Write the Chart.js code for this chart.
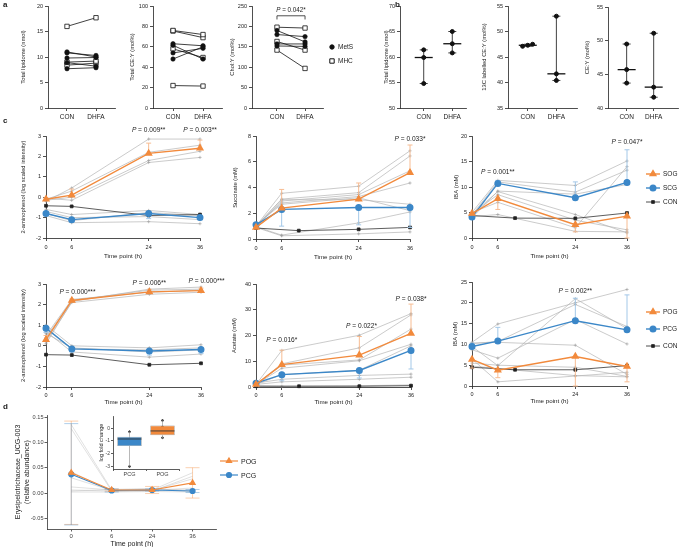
<!DOCTYPE html>
<html><head><meta charset="utf-8">
<script src="https://cdn.jsdelivr.net/npm/chart.js@4.4.1/dist/chart.umd.min.js"></script>
<style>
body{margin:0;width:683px;height:547px;position:relative;background:#fff;overflow:hidden;font-family:'Liberation Sans',Arial,sans-serif;}
</style>
</head><body>
<script>
// ===================== DATA =====================
const catLabels = ['CON', 'DHFA'];
// Panel a : [CON, DHFA] per subject
const a1MetS = [[11.0, 10.0], [10.8, 10.3], [9.8, 9.9], [8.9, 8.2], [7.7, 7.9]];
const a1MHC  = [[16.0, 17.7], [9.0, 9.2], [8.4, 8.8]];
const a1Ticks = [0, 5, 10, 15, 20];
const a2MetS = [[63, 61], [61.5, 48], [54, 58.5], [48, 60]];
const a2MHC  = [[76, 72], [75.5, 69], [58, 49.5], [22, 21.5]];
const a2Ticks = [0, 20, 40, 60, 80, 100];
const a3MetS = [[190, 162], [180, 175], [157, 157], [152, 151]];
const a3MHC  = [[198, 196], [163, 142], [142, 97]];
const a3Ticks = [0, 50, 100, 150, 200, 250];
const a3P = '0.042*';
// Panel b : values per group
const b1Con = [61.4, 59.9, 54.8], b1Dhfa = [65.0, 62.6, 60.8];
const b2Con = [47.1, 47.5, 47.3], b2Dhfa = [53.0, 41.7, 40.4];
const b3Con = [49.5, 45.7, 43.7], b3Dhfa = [51.1, 43.1, 41.6];
const b1Ticks = [50, 55, 60, 65, 70], b2Ticks = [35, 40, 45, 50, 55], b3Ticks = [40, 45, 50, 55];
// Panel c : time points
const timeTicks = [0, 6, 24, 36];
const conTimesA = [0, 6, 24, 36];
const conTimesB = [0, 10, 24, 36];
// c1 2-aminophenol (SOG/SCG)
const c1Sog = [-0.1, 0.1, 2.15, 2.4],  c1SogHi = [-0.03, 0.4, 2.65, 2.8];
const c1Scg = [-0.8, -1.1, -0.8, -1.0], c1ScgLo = [-0.9, -1.2, -1.05, -1.1];
const c1Con = [-0.42, -0.45, -0.9, -0.85];
const c1Ind = [[-0.2, 0.45, 2.85, 2.85], [-0.1, 0.3, 2.2, 2.55], [-0.15, 0.0, 1.8, 2.25], [-0.05, -0.15, 1.7, 1.95],
               [-0.6, -0.85, -0.65, -0.85], [-0.8, -1.15, -0.75, -0.9], [-0.9, -1.25, -1.2, -1.3], [-0.7, -1.0, -0.95, -1.1]];
// c2 succinate
const c2Sog = [0.9, 2.4, 3.1, 5.15], c2SogHi = [1.0, 3.85, 4.35, 7.3];
const c2Scg = [1.1, 2.3, 2.45, 2.45], c2ScgLo = [1.0, 1.0, 1.1, 0.9];
const c2Con = [0.85, 0.65, 0.75, 0.9];
const c2Ind = [[1.0, 3.55, 4.1, 6.85], [1.0, 3.1, 3.6, 6.45], [0.9, 2.95, 3.45, 5.3], [1.1, 2.8, 3.3, 4.35],
               [1.0, 3.05, 3.05, 2.7], [1.1, 2.7, 3.2, 2.2], [0.95, 0.3, 1.25, 2.1], [0.9, 0.25, 0.4, 0.55]];
// c3 IBA (SOG/SCG)
const c3Sog = [4.8, 7.7, 2.6, 4.3], c3SogLo = [4.5, 5.6, 1.2, 0.0];
const c3Scg = [4.1, 10.7, 7.9, 10.9], c3ScgHi = [4.4, 11.3, 11.0, 17.3];
const c3Con = [4.4, 3.9, 3.85, 4.9];
const c3Ind = [[5.0, 11.3, 10.3, 15.1], [4.5, 11.0, 9.0, 13.3], [4.0, 9.2, 8.6, 10.5], [4.7, 9.1, 4.6, 1.0],
               [4.8, 8.5, 3.5, 1.6], [4.2, 4.6, 1.3, 1.2], [5.0, 7.0, 2.0, 14.0]];
// c4 2-aminophenol (POG/PCG)
const c4Pog = [0.3, 2.2, 2.62, 2.68], c4PogHi = [0.5, 2.27, 2.74, 2.8];
const c4Pcg = [0.85, -0.15, -0.25, -0.18], c4PcgLo = [0.65, -0.3, -0.45, -0.38];
const c4Con = [-0.43, -0.45, -0.92, -0.85];
const c4Ind = [[0.1, 2.15, 2.75, 2.85], [0.2, 2.1, 2.5, 2.6], [0.5, 2.25, 2.6, 2.7], [0.4, 2.2, 2.7, 2.75],
               [1.0, 0.0, -0.1, 0.05], [0.7, -0.3, -0.55, -0.4], [0.9, -0.15, -0.2, -0.1], [0.6, -0.1, -0.3, -0.2]];
// c5 acetate
const c5Pog = [1.0, 8.7, 12.4, 20.8], c5PogHi = [1.2, 14.3, 19.6, 32.2];
const c5Pcg = [1.5, 4.8, 6.4, 14.2], c5PcgLo = [1.2, 2.4, 3.5, 7.0];
const c5Con = [0.3, 0.3, 0.3, 0.5];
const c5Ind = [[1.0, 14.2, 20.1, 28.5], [1.0, 9.0, 15.2, 28.0], [1.0, 8.5, 10.5, 22.5], [1.0, 7.3, 10.2, 16.6],
               [1.0, 4.8, 6.5, 16.0], [1.5, 3.0, 4.5, 5.0], [1.0, 2.0, 3.0, 3.8], [0.5, 0.3, 0.5, 0.8]];
// c6 IBA (POG/PCG)
const c6Pog = [6.4, 3.8, 7.1, 4.7], c6PogLo = [4.3, 2.0, 0.0, 1.0];
const c6Pcg = [9.5, 10.8, 15.7, 13.5], c6PcgHi = [10.3, 14.1, 21.1, 21.9];
const c6Con = [4.5, 3.9, 3.9, 4.9];
const c6Ind = [[10.5, 14.9, 20.0, 23.2], [10.2, 10.7, 19.6, 14.3], [8.7, 6.7, 16.0, 10.1], [9.5, 4.9, 21.0, 13.8],
               [10.3, 10.5, 9.8, 2.8], [6.5, 1.0, 2.4, 3.3], [5.5, 5.0, 4.5, 2.3], [4.8, 4.2, 2.5, 2.2]];
// Panel d
const dLabels = ['0', '6', '24', '36'];
const dPog = [0.040, 0.006, 0.006, 0.020], dPogLo = [-0.062, 0.004, -0.001, -0.010], dPogHi = [0.142, 0.008, 0.013, 0.050];
const dPcg = [0.037, 0.005, 0.006, 0.004], dPcgLo = [-0.063, 0.002, 0.004, 0.001], dPcgHi = [0.137, 0.008, 0.008, 0.007];
const dInd = [[0.135, 0.006, 0.004, 0.033], [0.127, 0.004, 0.006, 0.040], [0.042, 0.003, 0.005, 0.010], [0.012, 0.006, 0.008, 0.006],
              [0.004, 0.007, 0.009, 0.004], [0.002, 0.002, 0.003, 0.002], [0.030, 0.005, 0.007, 0.003], [0.006, 0.004, 0.005, 0.028]];
const dTicks = [-0.05, 0, 0.05, 0.10, 0.15];
// inset box plot (log fold change)
const insetLabels = ['PCG', 'POG'];
const insetQ1 = [-1.4, -0.55], insetMed = [-0.85, -0.22], insetQ3 = [-0.68, 0.2], insetLo = [-3.0, -0.8], insetHi = [-0.28, 0.6];
const insetPCG = [-0.28, -0.85, -3.0], insetPOG = [0.6, 0.1, -0.2, -0.75];
const insetTicks = [-3, -2, -1, 0];

// ===================== STYLE =====================
const FONT = "'Liberation Sans', Arial, sans-serif";
const ORANGE = '#F28A3C', BLUE = '#3B87C8', LORANGE = '#F7BC92', LBLUE = '#A3C8E8', INK = '#222';
Chart.defaults.font.family = FONT;
Chart.defaults.color = INK;
Chart.defaults.animation = false;

function addText(txt, x, y, o = {}) {
  const size = o.size || 6.5;
  const d = document.createElement('div');
  d.textContent = txt;
  d.style.cssText = `position:absolute;white-space:nowrap;font-size:${size}px;line-height:${size}px;color:${o.color || INK};${o.bold ? 'font-weight:bold;' : ''}z-index:5;`;
  d.style.top = (y - size / 2) + 'px';
  d.style.left = x + 'px';
  document.body.appendChild(d);
}

function makeChart(cfg) {
  const [l, t, r, b] = cfg.plot;
  const yW = cfg.yW, xH = cfg.xH, T = cfg.T, R = cfg.R;
  const W = r - l + yW + R, H = b - t + T + xH;
  const div = document.createElement('div');
  div.style.cssText = `position:absolute;left:${l - yW}px;top:${t - T}px;width:${W}px;height:${H}px;`;
  const cv = document.createElement('canvas');
  cv.width = W; cv.height = H; cv.style.width = W + 'px'; cv.style.height = H + 'px';
  div.appendChild(cv); document.body.appendChild(div);
  const sc = cfg.scales;
  sc.x.afterFit = s => { s.height = xH; s.paddingLeft = 0; s.paddingRight = 0; };
  sc.y.afterFit = s => { s.width = yW; s.paddingTop = 0; s.paddingBottom = 0; };
  return new Chart(cv, {
    type: cfg.type || 'line',
    data: { labels: cfg.labels, datasets: cfg.datasets },
    options: {
      responsive: false, animation: false, devicePixelRatio: 1,
      layout: { padding: { left: 0, right: R, top: T, bottom: 0 } },
      plugins: { legend: { display: false }, tooltip: { enabled: false } },
      scales: sc
    },
    plugins: cfg.plugins || []
  });
}

function axisCommon(color, tl) {
  return {
    grid: { display: true, drawOnChartArea: false, drawTicks: true, tickLength: tl, color: color, lineWidth: 0.8 },
    border: { display: true, color: color, width: 0.8 }
  };
}
function linY(min, max, ticks, title, o = {}) {
  const color = o.color || INK;
  return Object.assign({
    type: 'linear', min, max,
    afterBuildTicks: s => { s.ticks = ticks.map(v => ({ value: v })); },
    ticks: { font: { size: o.fs || 5.5 }, color: o.tcolor || INK, padding: o.pad ?? 2, callback: o.fmt || (v => String(v)) },
    title: { display: !!title, text: title, font: { size: o.tfs || 5.8 }, color: INK, padding: { top: 0, bottom: 0 } }
  }, axisCommon(color, o.tl || 3));
}
function catX(min, max) {
  return Object.assign({
    type: 'linear', min, max,
    afterBuildTicks: s => { s.ticks = catLabels.map((_, i) => ({ value: i })); },
    ticks: { font: { size: 6.5 }, color: INK, padding: 2, maxRotation: 0, autoSkip: false, callback: v => catLabels[v] }
  }, axisCommon(INK, 3));
}
function timeX(pad) {
  return Object.assign({
    type: 'linear', min: 0, max: 36,
    afterBuildTicks: s => { s.ticks = timeTicks.map(v => ({ value: v })); },
    ticks: { font: { size: 5.5 }, color: INK, padding: pad, maxRotation: 0, autoSkip: false },
    title: { display: true, text: 'Time point (h)', font: { size: 6.2 }, color: INK, padding: { top: 0, bottom: 0 } }
  }, axisCommon(INK, 3));
}

// ---------- plugins ----------
function pText(items, size = 6.6) {
  return { id: 'ptext', afterDatasetsDraw(chart) {
    const ctx = chart.ctx; ctx.save(); ctx.fillStyle = INK; ctx.textBaseline = 'middle'; ctx.textAlign = 'left';
    items.forEach(it => {
      const x = chart.scales.x.getPixelForValue(it.x), y = chart.scales.y.getPixelForValue(it.y);
      ctx.font = `italic ${size}px ${FONT}`; const w1 = ctx.measureText('P').width;
      const rest = ' = ' + it.t;
      ctx.font = `${size}px ${FONT}`; const w2 = ctx.measureText(rest).width;
      const x0 = x - (w1 + w2) / 2;
      ctx.font = `italic ${size}px ${FONT}`; ctx.fillText('P', x0, y);
      ctx.font = `${size}px ${FONT}`; ctx.fillText(rest, x0 + w1, y);
    });
    ctx.restore();
  } };
}
function errBars(bars, afterIndex) {
  return { id: 'errbars', afterDatasetDraw(chart, args) {
    if (args.index !== afterIndex) return;
    const ctx = chart.ctx, xs = chart.scales.x, ys = chart.scales.y; ctx.save();
    bars.forEach(b => {
      ctx.strokeStyle = b.color; ctx.lineWidth = b.lw || 1;
      b.x.forEach((xv, i) => {
        const px = xs.getPixelForValue(xv), pm = ys.getPixelForValue(b.y[i]);
        [b.lo, b.hi].forEach(arr => {
          if (!arr || arr[i] == null) return;
          const pe = ys.getPixelForValue(arr[i]);
          ctx.beginPath(); ctx.moveTo(px, pm); ctx.lineTo(px, pe);
          ctx.moveTo(px - b.cap, pe); ctx.lineTo(px + b.cap, pe); ctx.stroke();
        });
      });
    });
    ctx.restore();
  } };
}
function rangePlugin(groups) {
  return { id: 'range', beforeDatasetsDraw(chart) {
    const ctx = chart.ctx, xs = chart.scales.x, ys = chart.scales.y; ctx.save(); ctx.strokeStyle = '#111';
    groups.forEach((vals, gi) => {
      const s = [...vals].sort((a, b) => a - b);
      const px = xs.getPixelForValue(gi);
      const y1 = ys.getPixelForValue(s[0]), y2 = ys.getPixelForValue(s[s.length - 1]), ym = ys.getPixelForValue(s[Math.floor(s.length / 2)]);
      ctx.lineWidth = 0.8; ctx.beginPath();
      ctx.moveTo(px, y1); ctx.lineTo(px, y2);
      ctx.moveTo(px - 4, y1); ctx.lineTo(px + 4, y1); ctx.moveTo(px - 4, y2); ctx.lineTo(px + 4, y2); ctx.stroke();
      ctx.lineWidth = 1.3; ctx.beginPath(); ctx.moveTo(px - 9, ym); ctx.lineTo(px + 9, ym); ctx.stroke();
    });
    ctx.restore();
  } };
}
function bracketPlugin(yLine, yTick, yText, txt) {
  return { id: 'bracket', afterDatasetsDraw(chart) {
    const ctx = chart.ctx, xs = chart.scales.x, ys = chart.scales.y; ctx.save();
    const x0 = xs.getPixelForValue(0), x1 = xs.getPixelForValue(1), yl = ys.getPixelForValue(yLine), yt = ys.getPixelForValue(yTick);
    ctx.strokeStyle = INK; ctx.lineWidth = 0.8; ctx.beginPath();
    ctx.moveTo(x0, yt); ctx.lineTo(x0, yl); ctx.lineTo(x1, yl); ctx.lineTo(x1, yt); ctx.stroke();
    ctx.restore();
  } };
}

// ---------- dataset builders ----------
function pairDatasets(metS, mhc) {
  const ds = [];
  metS.forEach(p => ds.push({ data: [{ x: 0, y: p[0] }, { x: 1, y: p[1] }], borderColor: '#111', borderWidth: 0.8,
    pointStyle: 'circle', pointRadius: 2.2, pointBackgroundColor: '#111', pointBorderColor: '#111', pointBorderWidth: 0.6, clip: false }));
  mhc.forEach(p => ds.push({ data: [{ x: 0, y: p[0] }, { x: 1, y: p[1] }], borderColor: '#111', borderWidth: 0.8,
    pointStyle: 'rect', pointRadius: 3.1, pointBackgroundColor: '#fff', pointBorderColor: '#111', pointBorderWidth: 0.8, clip: false }));
  return ds;
}
function groupPoints(con, dhfa, conX) {
  return [
    { data: con.map((v, i) => ({ x: conX ? conX[i] : 0, y: v })), showLine: false, pointRadius: 2, pointBackgroundColor: '#111', pointBorderColor: '#111', clip: false },
    { data: dhfa.map(v => ({ x: 1, y: v })), showLine: false, pointRadius: 2, pointBackgroundColor: '#111', pointBorderColor: '#111', clip: false }
  ];
}
function series(xs, ys) { return xs.map((x, i) => ({ x, y: ys[i] })); }
function timeDatasets(orange, blue, con, conX, ind) {
  const ds = [
    { data: series(timeTicks, orange), borderColor: ORANGE, borderWidth: 1.4, pointStyle: 'triangle', pointRadius: 3.3,
      pointBackgroundColor: ORANGE, pointBorderColor: ORANGE, clip: false },
    { data: series(timeTicks, blue), borderColor: BLUE, borderWidth: 1.4, pointStyle: 'circle', pointRadius: 2.8,
      pointBackgroundColor: BLUE, pointBorderColor: BLUE, clip: false },
    { data: series(conX, con), borderColor: '#333', borderWidth: 0.8, pointStyle: 'rect', pointRadius: 2,
      pointBackgroundColor: '#222', pointBorderColor: '#222', clip: false }
  ];
  ind.forEach(v => ds.push({ data: series(timeTicks, v), borderColor: '#B5B5B5', borderWidth: 0.7, pointStyle: 'cross',
    pointRadius: 1.6, pointBorderColor: '#9A9A9A', pointBorderWidth: 0.6, clip: false }));
  return ds;
}

// ===================== PANEL a =====================
makeChart({ plot: [48, 6, 115, 108], yW: 28, xH: 20, T: 8, R: 6,
  datasets: pairDatasets(a1MetS, a1MHC),
  scales: { x: catX(-0.655, 1.655), y: linY(0, 20, a1Ticks, 'Total lipidome (nmol)') } });
makeChart({ plot: [153, 6, 222, 108], yW: 24, xH: 20, T: 8, R: 6,
  datasets: pairDatasets(a2MetS, a2MHC),
  scales: { x: catX(-0.667, 1.633), y: linY(0, 100, a2Ticks, 'Total CE:Y (mol%)') } });
makeChart({ plot: [252, 6, 323, 108], yW: 23, xH: 20, T: 8, R: 6,
  datasets: pairDatasets(a3MetS, a3MHC),
  plugins: [bracketPlugin(226, 217, 240, a3P), pText([{ x: 0.5, y: 239, t: a3P }], 6.3)],
  scales: { x: catX(-0.89, 1.64), y: linY(0, 250, a3Ticks, 'Chol:Y (mol%)') } });

// ===================== PANEL b =====================
makeChart({ plot: [400, 6, 467, 108], yW: 17, xH: 20, T: 8, R: 4,
  datasets: groupPoints(b1Con, b1Dhfa), plugins: [rangePlugin([b1Con, b1Dhfa])],
  scales: { x: catX(-0.83, 1.48), y: linY(50, 70, b1Ticks, 'Total lipidome (nmol)') } });
makeChart({ plot: [508, 6, 578, 108], yW: 27, xH: 20, T: 8, R: 4,
  datasets: groupPoints(b2Con, b2Dhfa, [-0.18, 0.17, 0.0]), plugins: [rangePlugin([b2Con, b2Dhfa])],
  scales: { x: catX(-0.69, 1.72), y: linY(35, 55, b2Ticks, '13C labelled CE:Y (mol%)') } });
makeChart({ plot: [608, 7, 682, 108], yW: 24, xH: 20, T: 8, R: 1,
  datasets: groupPoints(b3Con, b3Dhfa), plugins: [rangePlugin([b3Con, b3Dhfa])],
  scales: { x: catX(-0.69, 1.9), y: linY(40, 55, b3Ticks, 'CE:Y (mol%)') } });

// ===================== PANEL c =====================
const capC = 2.5;
makeChart({ plot: [46, 136, 200, 238], yW: 26, xH: 22, T: 10, R: 22,
  datasets: timeDatasets(c1Sog, c1Scg, c1Con, conTimesA, c1Ind),
  plugins: [errBars([{ x: timeTicks, y: c1Sog, hi: c1SogHi, color: LORANGE, cap: capC }, { x: timeTicks, y: c1Scg, lo: c1ScgLo, color: LBLUE, cap: capC }], 2),
    pText([{ x: 24, y: 3.28, t: '0.009**' }, { x: 36, y: 3.28, t: '0.003**' }])],
  scales: { x: timeX(3), y: linY(-2, 3, [-2, -1, 0, 1, 2, 3], '2-aminophenol (log scaled intensity)') } });
makeChart({ plot: [256, 136, 410, 239], yW: 24, xH: 22, T: 10, R: 20,
  datasets: timeDatasets(c2Sog, c2Scg, c2Con, conTimesB, c2Ind),
  plugins: [errBars([{ x: timeTicks, y: c2Sog, hi: c2SogHi, color: LORANGE, cap: capC }, { x: timeTicks, y: c2Scg, lo: c2ScgLo, color: LBLUE, cap: capC }], 2),
    pText([{ x: 36, y: 7.77, t: '0.033*' }])],
  scales: { x: timeX(3), y: linY(0, 8, [0, 2, 4, 6, 8], 'Succinate (mM)') } });
makeChart({ plot: [472, 136, 627, 238], yW: 19, xH: 22, T: 10, R: 56,
  datasets: timeDatasets(c3Sog, c3Scg, c3Con, conTimesB, c3Ind),
  plugins: [errBars([{ x: timeTicks, y: c3Sog, lo: c3SogLo, color: LORANGE, cap: capC }, { x: timeTicks, y: c3Scg, hi: c3ScgHi, color: LBLUE, cap: capC }], 2),
    pText([{ x: 6, y: 12.9, t: '0.001**' }, { x: 36, y: 18.8, t: '0.047*' }])],
  scales: { x: timeX(3), y: linY(0, 20, [0, 5, 10, 15, 20], 'IBA (mM)') } });
makeChart({ plot: [46, 284, 201, 387], yW: 26, xH: 19, T: 10, R: 32,
  datasets: timeDatasets(c4Pog, c4Pcg, c4Con, conTimesA, c4Ind),
  plugins: [errBars([{ x: timeTicks, y: c4Pog, hi: c4PogHi, color: LORANGE, cap: capC }, { x: timeTicks, y: c4Pcg, lo: c4PcgLo, color: LBLUE, cap: capC }], 2),
    pText([{ x: 7.3, y: 2.58, t: '0.000***' }, { x: 24, y: 3.06, t: '0.006**' }, { x: 37.3, y: 3.15, t: '0.000***' }])],
  scales: { x: timeX(2), y: linY(-2, 3, [-2, -1, 0, 1, 2, 3], '2-aminophenol (log scaled intensity)') } });
makeChart({ plot: [256, 284, 411, 387], yW: 25, xH: 19, T: 10, R: 20,
  datasets: timeDatasets(c5Pog, c5Pcg, c5Con, conTimesB, c5Ind),
  plugins: [errBars([{ x: timeTicks, y: c5Pog, hi: c5PogHi, color: LORANGE, cap: capC }, { x: timeTicks, y: c5Pcg, lo: c5PcgLo, color: LBLUE, cap: capC }], 2),
    pText([{ x: 6, y: 18.0, t: '0.016*' }, { x: 24.5, y: 23.7, t: '0.022*' }, { x: 36, y: 34.0, t: '0.038*' }])],
  scales: { x: timeX(2), y: linY(0, 40, [0, 10, 20, 30, 40], 'Acetate (mM)') } });
makeChart({ plot: [472, 282, 627, 386], yW: 20, xH: 19, T: 10, R: 56,
  datasets: timeDatasets(c6Pog, c6Pcg, c6Con, conTimesB, c6Ind),
  plugins: [errBars([{ x: timeTicks, y: c6Pog, lo: c6PogLo, color: LORANGE, cap: capC }, { x: timeTicks, y: c6Pcg, hi: c6PcgHi, color: LBLUE, cap: capC }], 2),
    pText([{ x: 24, y: 22.7, t: '0.002**' }])],
  scales: { x: timeX(2), y: linY(0, 25, [0, 5, 10, 15, 20, 25], 'IBA (mM)') } });

// ===================== PANEL d =====================
(function () {
  const idx = [0, 1, 2, 3];
  const ds = [
    { data: series(idx, dPog), borderColor: ORANGE, borderWidth: 1.2, pointStyle: 'triangle', pointRadius: 3,
      pointBackgroundColor: ORANGE, pointBorderColor: ORANGE, clip: false },
    { data: series(idx, dPcg), borderColor: BLUE, borderWidth: 1.2, pointStyle: 'circle', pointRadius: 2.5,
      pointBackgroundColor: BLUE, pointBorderColor: BLUE, clip: false }
  ];
  dInd.forEach(v => ds.push({ data: series(idx, v), borderColor: 'rgba(185,185,185,0.55)', borderWidth: 0.8, pointRadius: 0, clip: false }));
  const xs = Object.assign({
    type: 'linear', min: -0.6, max: 3.6,
    afterBuildTicks: s => { s.ticks = idx.map(v => ({ value: v })); },
    ticks: { font: { size: 6 }, color: '#444', padding: 1, maxRotation: 0, autoSkip: false, callback: v => dLabels[v] },
    title: { display: true, text: 'Time point (h)', font: { size: 7 }, color: INK, padding: { top: 0, bottom: 0 } }
  }, axisCommon('#333', 2.5));
  const ys = linY(-0.071, 0.154, dTicks, ['Erysipelotrichaceae_UCG-003', '(relative abundance)'],
    { color: '#333', tcolor: '#444', fs: 5.6, tfs: 7, tl: 2.5, pad: 1, fmt: v => v.toFixed(2) });
  makeChart({ plot: [47, 415, 218, 529], yW: 33, xH: 19, T: 6, R: 4, datasets: ds,
    plugins: [errBars([{ x: idx, y: dPog, lo: dPogLo, hi: dPogHi, color: 'rgba(242,138,60,0.45)', cap: 7, lw: 0.9 },
      { x: idx, y: dPcg, lo: dPcgLo, hi: dPcgHi, color: 'rgba(59,135,200,0.45)', cap: 7, lw: 0.9 }], 2)],
    scales: { x: xs, y: ys } });

  // inset box plot
  const boxPlugin = { id: 'box', afterDatasetDraw(chart, args) {
    if (args.index !== 0) return;
    const ctx = chart.ctx, xS = chart.scales.x, yS = chart.scales.y; ctx.save();
    insetLabels.forEach((_, i) => {
      const px = xS.getPixelForValue(i), half = 12;
      ctx.strokeStyle = '#9A9A9A'; ctx.lineWidth = 0.7; ctx.beginPath();
      ctx.moveTo(px, yS.getPixelForValue(insetQ3[i])); ctx.lineTo(px, yS.getPixelForValue(insetHi[i]));
      ctx.moveTo(px, yS.getPixelForValue(insetQ1[i])); ctx.lineTo(px, yS.getPixelForValue(insetLo[i])); ctx.stroke();
      ctx.strokeStyle = '#333'; ctx.lineWidth = 0.9; ctx.beginPath();
      const ym = yS.getPixelForValue(insetMed[i]); ctx.moveTo(px - half, ym); ctx.lineTo(px + half, ym); ctx.stroke();
    });
    ctx.restore();
  } };
  const pts = [];
  insetPCG.forEach(v => pts.push({ x: 'PCG', y: v }));
  insetPOG.forEach(v => pts.push({ x: 'POG', y: v }));
  makeChart({ type: 'bar', labels: insetLabels, plot: [113, 414, 181, 469], yW: 15, xH: 9, T: 3, R: 3,
    datasets: [
      { type: 'bar', data: insetQ1.map((q, i) => [q, insetQ3[i]]), backgroundColor: [BLUE, ORANGE], borderColor: '#8A8A8A',
        borderWidth: 0.6, borderSkipped: false, barPercentage: 0.74, categoryPercentage: 1 },
      { type: 'line', data: pts, showLine: false, pointRadius: 0.9, pointBackgroundColor: '#333', pointBorderColor: '#333', clip: false }
    ],
    plugins: [boxPlugin],
    scales: {
      x: Object.assign({ type: 'category', offset: true,
        ticks: { font: { size: 5.5 }, color: '#444', padding: 0, maxRotation: 0 } }, axisCommon('#333', 2)),
      y: linY(-3.2, 0.95, insetTicks, 'log fold change', { color: '#333', tcolor: '#444', fs: 5, tfs: 5.6, tl: 2, pad: 1 })
    } });
})();

// ===================== LEGENDS & LABELS =====================
const ov = document.createElement('canvas');
ov.width = 683; ov.height = 547;
ov.style.cssText = 'position:absolute;left:0;top:0;width:683px;height:547px;pointer-events:none;z-index:4;';
document.body.appendChild(ov);
const octx = ov.getContext('2d');
function legendEntry(x1, x2, y, color, style, r, fill, text, tx, fs, lw) {
  if (x2 > x1) { octx.strokeStyle = color; octx.lineWidth = lw; octx.beginPath(); octx.moveTo(x1, y); octx.lineTo(x2, y); octx.stroke(); }
  octx.fillStyle = fill; octx.strokeStyle = color;
  Chart.helpers.drawPoint(octx, { pointStyle: style, radius: r, rotation: 0, borderWidth: 0.8 }, (x1 + x2) / 2, y);
  addText(text, tx, y, { size: fs });
}
// a3 legend
legendEntry(332, 332, 47, '#111', 'circle', 2.2, '#111', 'MetS', 338, 6.5, 0);
legendEntry(332, 332, 61, '#111', 'rect', 3.1, '#fff', 'MHC', 338, 6.5, 0);
// c legends
[['SOG', ORANGE, 'triangle', 3.3, 174], ['SCG', BLUE, 'circle', 2.8, 188], ['CON', '#222', 'rect', 2, 202]].forEach(e =>
  legendEntry(646, 660, e[4], e[1], e[2], e[3], e[1], e[0], 663, 6.5, e[0] === 'CON' ? 0.8 : 1.4));
[['POG', ORANGE, 'triangle', 3.3, 312], ['PCG', BLUE, 'circle', 2.8, 329], ['CON', '#222', 'rect', 2, 346]].forEach(e =>
  legendEntry(646, 660, e[4], e[1], e[2], e[3], e[1], e[0], 663, 6.5, e[0] === 'CON' ? 0.8 : 1.4));
// d legend
legendEntry(220, 238, 461, ORANGE, 'triangle', 3, ORANGE, 'POG', 241, 7, 1.2);
legendEntry(220, 238, 475, BLUE, 'circle', 2.5, BLUE, 'PCG', 241, 7, 1.2);
// panel letters
addText('a', 3, 5, { size: 8, bold: true });
addText('b', 395, 5, { size: 8, bold: true });
addText('c', 3, 121, { size: 8, bold: true });
addText('d', 3, 407, { size: 8, bold: true });
</script>
</body></html>
